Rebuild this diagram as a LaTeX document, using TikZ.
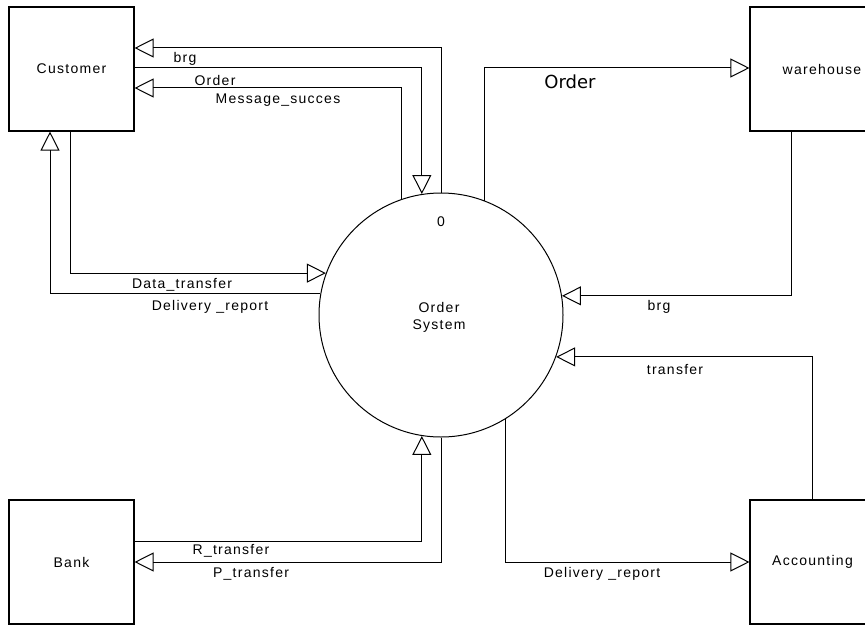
\documentclass[tikz,border=0pt]{standalone}
\usepackage{fontspec}
\setmainfont{Liberation Sans}[LetterSpace=9.0]
\newfontfamily\bigfont{DejaVu Sans}
\usetikzlibrary{arrows.meta,calc}
\begin{document}
\begin{tikzpicture}[x=1pt,y=-1pt,
  box/.style={draw,line width=1.1pt,minimum width=125pt,minimum height=124pt,inner sep=0pt,
    font=\fontsize{14}{16}\selectfont},
  proc/.style={draw,circle,line width=1pt,minimum size=244pt,inner sep=0pt},
  flow/.style={draw,line width=1pt,-{Triangle[open,length=19pt,width=19pt,line width=1pt]}},
  lbl/.style={inner sep=0pt,font=\fontsize{14}{16}\selectfont},
  biglbl/.style={inner sep=0pt,font=\bigfont\fontsize{18}{20}\selectfont}]
\clip (0,0) rectangle (865,626);
\fill[white] (0,0) rectangle (865,626);
% entities
\node[box] (cust) at (71.5,69) {Customer};
\node[box] (wh) at (812.5,69) {};
\node[lbl] (whl) at (822,69) {warehouse};
\node[box] (bank) at (71.5,562) {Bank};
\node[box] (acc) at (812.5,562) {Accounting};
% process
\node[proc] (sys) at (441,315) {};
\node[lbl] (zero) at (441,222) {0};
\node[lbl,align=center] (sysl) at (439,317) {Order\\[1pt]System};
% flows with customer
\draw[flow] (sys.north) |- ([yshift=21pt]cust.east);
\draw[flow] ([yshift=1pt]cust.east) -| (sys.99.4);
\draw[flow] (sys.109.6) |- ([yshift=-19pt]cust.east);
\draw[flow] ([xshift=-1.5pt]cust.south) |- (sys.160.4);
\draw[flow] (sys.170.1) -| ([xshift=-21.5pt]cust.south);
% flows with warehouse
\draw[flow] (sys.69.9) |- ([yshift=1pt]wh.west);
\draw[flow] ([xshift=-21.5pt]wh.south) |- (sys.9.9);
% flows with accounting
\draw[flow] (acc.north) |- (sys.-20.1);
\draw[flow] (sys.-58.9) |- (acc.west);
% flows with bank
\draw[flow] ([yshift=21pt]bank.east) -| (sys.-99.9);
\draw[flow] (sys.south) |- (bank.east);
% labels
\node[lbl] (l1) at (185,59) {brg};
\node[lbl] (l2) at (215,80) {Order};
\node[lbl] (l3) at (278,100) {Message\_succes};
\node[lbl] (l4) at (182,285) {Data\_transfer};
\node[lbl] (l5) at (210,307) {Delivery \_report};
\node[biglbl] (l6) at (570,82) {Order};
\node[lbl] (l7) at (659,307) {brg};
\node[lbl] (l8) at (675,369) {transfer};
\node[lbl] (l9) at (602,574) {Delivery \_report};
\node[lbl] (l10) at (231,551) {R\_transfer};
\node[lbl] (l11) at (251,574) {P\_transfer};
\end{tikzpicture}
\end{document}
